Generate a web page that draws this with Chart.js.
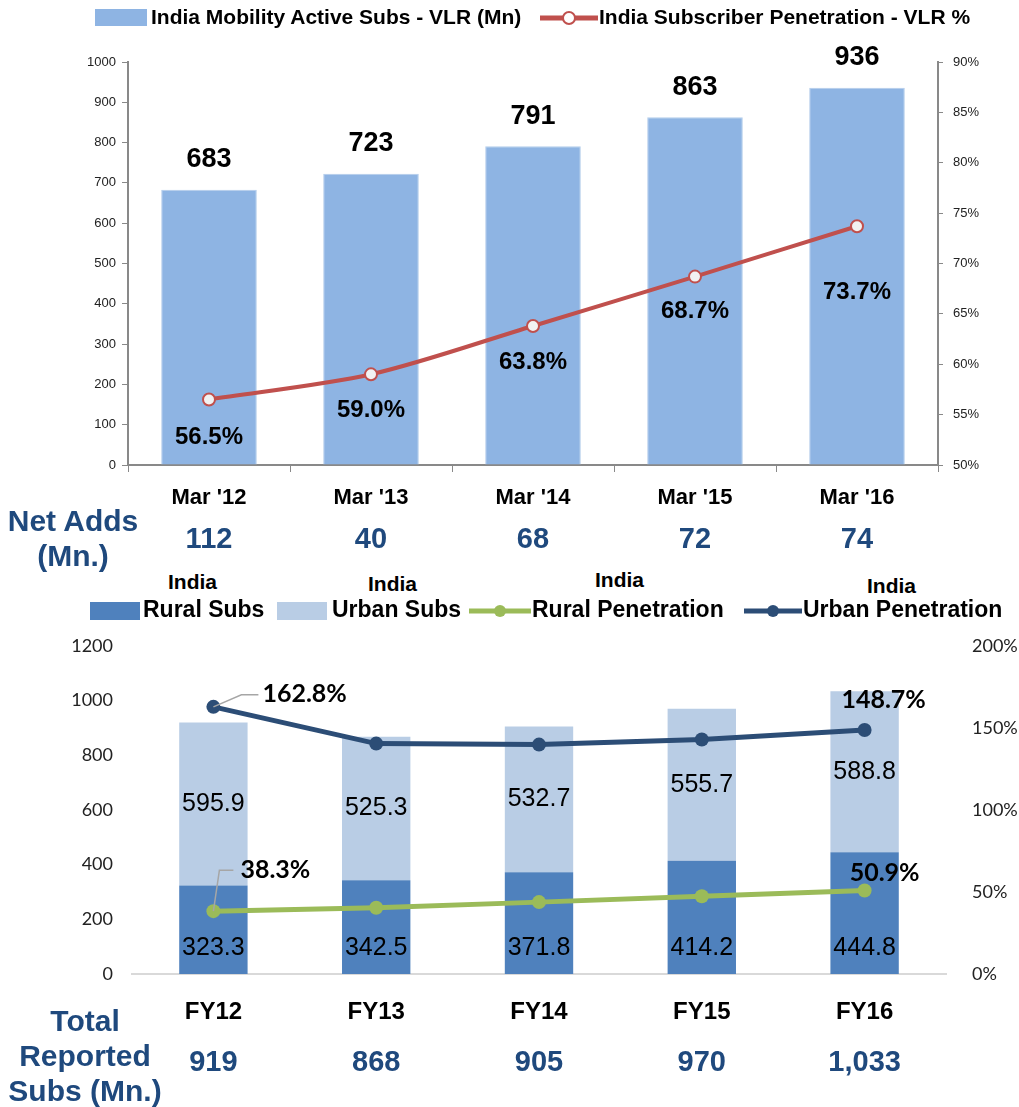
<!DOCTYPE html>
<html>
<head>
<meta charset="utf-8">
<script src="https://cdn.jsdelivr.net/npm/chart.js@4.4.0/dist/chart.umd.min.js"></script>
<style>
  body { margin: 0; background: #fff; width: 1019px; height: 1107px; position: relative; overflow: hidden; }
  .box { position: absolute; }
  .lg { position: absolute; font-family: 'Liberation Sans Narrow', 'Arial Narrow', Arial, sans-serif; font-weight: bold; color: #000; white-space: nowrap; }
  .side { position: absolute; font-family: 'Liberation Sans Narrow', 'Arial Narrow', Arial, sans-serif; font-weight: bold; color: #1F497D; text-align: center; line-height: 35px; font-size: 30px; }
</style>
</head>
<body>
<div class="box" style="left:0;top:0;width:1019px;height:565px"><canvas id="top"></canvas></div>
<div class="box" style="left:0;top:617px;width:1019px;height:490px"><canvas id="bottom"></canvas></div>

<!-- top legend -->
<div class="lg" style="left:95px;top:9px;width:52px;height:17px;background:#8EB4E3"></div>
<div class="lg" id="lg1" style="left:151px;top:5px;font-size:21px"></div>
<svg class="lg" style="left:540px;top:6px" width="58" height="24"><line x1="0" y1="12" x2="58" y2="12" stroke="#C0504D" stroke-width="5"/><circle cx="29" cy="12" r="6" fill="#fff" stroke="#C0504D" stroke-width="2"/></svg>
<div class="lg" id="lg2" style="left:599px;top:5px;font-size:21px"></div>

<div class="side" style="left:0;top:503px;width:146px">Net Adds<br>(Mn.)</div>

<!-- bottom legend -->
<div class="lg" style="left:168px;top:570px;font-size:21px">India</div>
<div class="lg" style="left:368px;top:572px;font-size:21px">India</div>
<div class="lg" style="left:595px;top:568px;font-size:21px">India</div>
<div class="lg" style="left:867px;top:574px;font-size:21px">India</div>
<div class="lg" style="left:90px;top:602px;width:50px;height:18px;background:#4F81BD"></div>
<div class="lg" id="lg3" style="left:143px;top:596px;font-size:23px"></div>
<div class="lg" style="left:277px;top:602px;width:50px;height:18px;background:#B9CDE5"></div>
<div class="lg" id="lg4" style="left:332px;top:596px;font-size:23px"></div>
<svg class="lg" style="left:469px;top:599px" width="62" height="24"><line x1="0" y1="12" x2="62" y2="12" stroke="#9BBB59" stroke-width="5"/><circle cx="31" cy="12" r="6" fill="#9BBB59"/></svg>
<div class="lg" id="lg5" style="left:532px;top:596px;font-size:23px"></div>
<svg class="lg" style="left:744px;top:599px" width="58" height="24"><line x1="0" y1="12" x2="58" y2="12" stroke="#2C4D76" stroke-width="5"/><circle cx="29" cy="12" r="6" fill="#2C4D76"/></svg>
<div class="lg" id="lg6" style="left:803px;top:596px;font-size:23px"></div>

<div class="side" style="left:0;top:1003px;width:170px">Total<br>Reported<br>Subs (Mn.)</div>

<script>
// top chart data
const periods = ["Mar '12", "Mar '13", "Mar '14", "Mar '15", "Mar '16"];
const activeSubs = [683, 723, 791, 863, 936];
const penetration = [56.5, 59.0, 63.8, 68.7, 73.7];
const netAdds = [112, 40, 68, 72, 74];

// bottom chart data
const fiscalYears = ['FY12', 'FY13', 'FY14', 'FY15', 'FY16'];
const ruralSubs = [323.3, 342.5, 371.8, 414.2, 444.8];
const urbanSubs = [595.9, 525.3, 532.7, 555.7, 588.8];
const ruralPen = [38.3, 40.4, 43.8, 47.4, 50.9];
const urbanPen = [162.8, 140.4, 139.8, 142.9, 148.7];
const totalSubs = [919, 868, 905, 970, 1033];

const narrow = "'Liberation Sans Narrow', 'Arial Narrow', Arial, sans-serif";
const arial = "'Liberation Sans', Arial, sans-serif";
const blueText = '#1F497D';
const bottomTop = 617;

document.getElementById('lg1').textContent = 'India Mobility Active Subs - VLR (Mn)';
document.getElementById('lg2').textContent = 'India Subscriber Penetration - VLR %';
document.getElementById('lg3').textContent = 'Rural Subs';
document.getElementById('lg4').textContent = 'Urban Subs';
document.getElementById('lg5').textContent = 'Rural Penetration';
document.getElementById('lg6').textContent = 'Urban Penetration';

// labels for the top chart
const topLabels = {
  id: 'topLabels',
  afterDatasetsDraw(chart) {
    const ctx = chart.ctx;
    ctx.save();
    ctx.textAlign = 'center';
    ctx.textBaseline = 'middle';
    ctx.fillStyle = '#000';
    ctx.font = 'bold 27px ' + arial;
    chart.getDatasetMeta(1).data.forEach(function(bar, i) {
      ctx.fillText(activeSubs[i], bar.x, bar.y - 30);
    });
    ctx.font = 'bold 24px ' + arial;
    var drop = [38, 36, 36, 35, 66];
    chart.getDatasetMeta(0).data.forEach(function(pt, i) {
      ctx.fillText(penetration[i].toFixed(1) + '%', pt.x, pt.y + drop[i]);
    });
    ctx.restore();
  },
  afterDraw(chart) {
    const ctx = chart.ctx;
    const x = chart.scales.x;
    ctx.save();
    ctx.textAlign = 'center';
    ctx.textBaseline = 'middle';
    ctx.fillStyle = blueText;
    ctx.font = 'bold 29px ' + narrow;
    netAdds.forEach(function(v, i) {
      ctx.fillText(v, x.getPixelForValue(i), 540);
    });
    ctx.restore();
  }
};

new Chart(document.getElementById('top'), {
  type: 'bar',
  data: {
    labels: periods,
    datasets: [{
      type: 'line',
      label: 'India Subscriber Penetration - VLR %',
      data: penetration,
      yAxisID: 'y1',
      borderColor: '#C0504D',
      borderWidth: 4,
      tension: 0.3,
      pointRadius: 6,
      pointBorderWidth: 2,
      pointBackgroundColor: '#F2F2F2',
      pointBorderColor: '#C0504D',
      order: 0
    }, {
      label: 'India Mobility Active Subs - VLR (Mn)',
      data: activeSubs,
      yAxisID: 'y',
      backgroundColor: '#8EB4E3',
      borderColor: '#B4CDEB',
      borderWidth: 1,
      categoryPercentage: 1,
      barPercentage: 0.59,
      order: 1
    }]
  },
  options: {
    responsive: true,
    maintainAspectRatio: false,
    animation: false,
    layout: { padding: { top: 62, left: 0, right: 0, bottom: 0 } },
    plugins: { legend: { display: false }, tooltip: { enabled: false } },
    scales: {
      x: {
        afterFit: function(s) { s.height = 100; },
        grid: { drawOnChartArea: false, color: '#898989', tickLength: 7, offset: true },
        border: { color: '#898989', width: 2 },
        ticks: { color: '#000', font: { family: narrow, size: 22, weight: 'bold' }, padding: 13 }
      },
      y: {
        position: 'left',
        min: 0, max: 1000,
        afterFit: function(s) { s.width = 128; },
        grid: { drawOnChartArea: false, color: '#898989', tickLength: 6 },
        border: { color: '#898989', width: 2 },
        ticks: { stepSize: 100, color: '#222', font: { family: arial, size: 13 }, padding: 6,
          callback: function(v) { return String(v); } }
      },
      y1: {
        position: 'right',
        min: 50, max: 90,
        afterFit: function(s) { s.width = 81; },
        grid: { drawOnChartArea: false, color: '#898989', tickLength: 5 },
        border: { color: '#898989', width: 2 },
        ticks: { stepSize: 5, color: '#222', font: { family: arial, size: 13 }, padding: 10,
          callback: function(v) { return v + '%'; } }
      }
    }
  },
  plugins: [topLabels]
});

// labels for the bottom chart
const bottomLabels = {
  id: 'bottomLabels',
  afterDatasetsDraw(chart) {
    const ctx = chart.ctx;
    ctx.save();
    ctx.textAlign = 'center';
    ctx.textBaseline = 'middle';
    ctx.fillStyle = '#000';
    ctx.font = '25px ' + arial;
    chart.getDatasetMeta(2).data.forEach(function(bar, i) {
      ctx.fillText(ruralSubs[i].toFixed(1), bar.x, bar.base - 26);
    });
    chart.getDatasetMeta(3).data.forEach(function(bar, i) {
      ctx.fillText(urbanSubs[i].toFixed(1), bar.x, (bar.y + bar.base) / 2);
    });

    // callouts on first and last points
    ctx.font = 'bold 25px Lato, ' + arial;
    ctx.textAlign = 'left';
    var u = chart.getDatasetMeta(1).data;
    var r = chart.getDatasetMeta(0).data;
    var n = u.length - 1;
    ctx.strokeStyle = '#A6A6A6';
    ctx.lineWidth = 1.5;
    ctx.beginPath();
    ctx.moveTo(u[0].x, u[0].y);
    ctx.lineTo(u[0].x + 28, u[0].y - 12);
    ctx.lineTo(u[0].x + 45, u[0].y - 12);
    ctx.moveTo(r[0].x, r[0].y);
    ctx.lineTo(r[0].x + 6, r[0].y - 41);
    ctx.lineTo(r[0].x + 20, r[0].y - 41);
    ctx.stroke();
    ctx.fillText(urbanPen[0].toFixed(1) + '%', u[0].x + 49, u[0].y - 13);
    ctx.fillText(ruralPen[0].toFixed(1) + '%', r[0].x + 27, r[0].y - 41);
    ctx.textAlign = 'center';
    ctx.fillText(urbanPen[n].toFixed(1) + '%', u[n].x + 19, u[n].y - 30);
    ctx.fillText(ruralPen[n].toFixed(1) + '%', r[n].x + 20, r[n].y - 18);
    ctx.restore();
  },
  afterDraw(chart) {
    const ctx = chart.ctx;
    const x = chart.scales.x;
    ctx.save();
    ctx.textAlign = 'center';
    ctx.textBaseline = 'middle';
    ctx.fillStyle = blueText;
    ctx.font = 'bold 29px ' + narrow;
    totalSubs.forEach(function(v, i) {
      ctx.fillText(v.toLocaleString('en-US'), x.getPixelForValue(i), 1063 - bottomTop);
    });
    ctx.restore();
  }
};

new Chart(document.getElementById('bottom'), {
  type: 'bar',
  data: {
    labels: fiscalYears,
    datasets: [{
      type: 'line',
      label: 'Rural Penetration',
      data: ruralPen,
      yAxisID: 'y1',
      borderColor: '#9BBB59',
      backgroundColor: '#9BBB59',
      borderWidth: 5,
      pointRadius: 7,
      pointBackgroundColor: '#9BBB59',
      pointBorderWidth: 0,
      order: 0
    }, {
      type: 'line',
      label: 'Urban Penetration',
      data: urbanPen,
      yAxisID: 'y1',
      borderColor: '#2C4D76',
      backgroundColor: '#2C4D76',
      borderWidth: 5,
      pointRadius: 7,
      pointBackgroundColor: '#2C4D76',
      pointBorderWidth: 0,
      order: 0
    }, {
      label: 'Rural Subs',
      data: ruralSubs,
      backgroundColor: '#4F81BD',
      stack: 'subs',
      categoryPercentage: 1,
      barPercentage: 0.42,
      order: 1
    }, {
      label: 'Urban Subs',
      data: urbanSubs,
      backgroundColor: '#B9CDE5',
      stack: 'subs',
      categoryPercentage: 1,
      barPercentage: 0.42,
      order: 1
    }]
  },
  options: {
    responsive: true,
    maintainAspectRatio: false,
    animation: false,
    layout: { padding: { top: 15, left: 0, right: 0, bottom: 0 } },
    plugins: { legend: { display: false }, tooltip: { enabled: false } },
    scales: {
      x: {
        stacked: true,
        afterFit: function(s) { s.height = 133; },
        grid: { display: false },
        border: { color: '#D9D9D9', width: 2 },
        ticks: { color: '#000', font: { family: narrow, size: 24, weight: 'bold' }, padding: 16 }
      },
      y: {
        stacked: true,
        position: 'left',
        min: 0, max: 1200,
        afterFit: function(s) { s.width = 132; },
        grid: { display: false },
        border: { display: false },
        ticks: { stepSize: 200, color: '#222', font: { family: 'Lato, ' + arial, size: 18 }, padding: 11,
          callback: function(v) { return String(v); } }
      },
      y1: {
        position: 'right',
        min: 0, max: 200,
        afterFit: function(s) { s.width = 73; },
        grid: { display: false },
        border: { display: false },
        ticks: { stepSize: 50, color: '#222', font: { family: 'Lato, ' + arial, size: 18 }, padding: 18,
          callback: function(v) { return v + '%'; } }
      }
    }
  },
  plugins: [bottomLabels]
});
</script>
</body>
</html>
